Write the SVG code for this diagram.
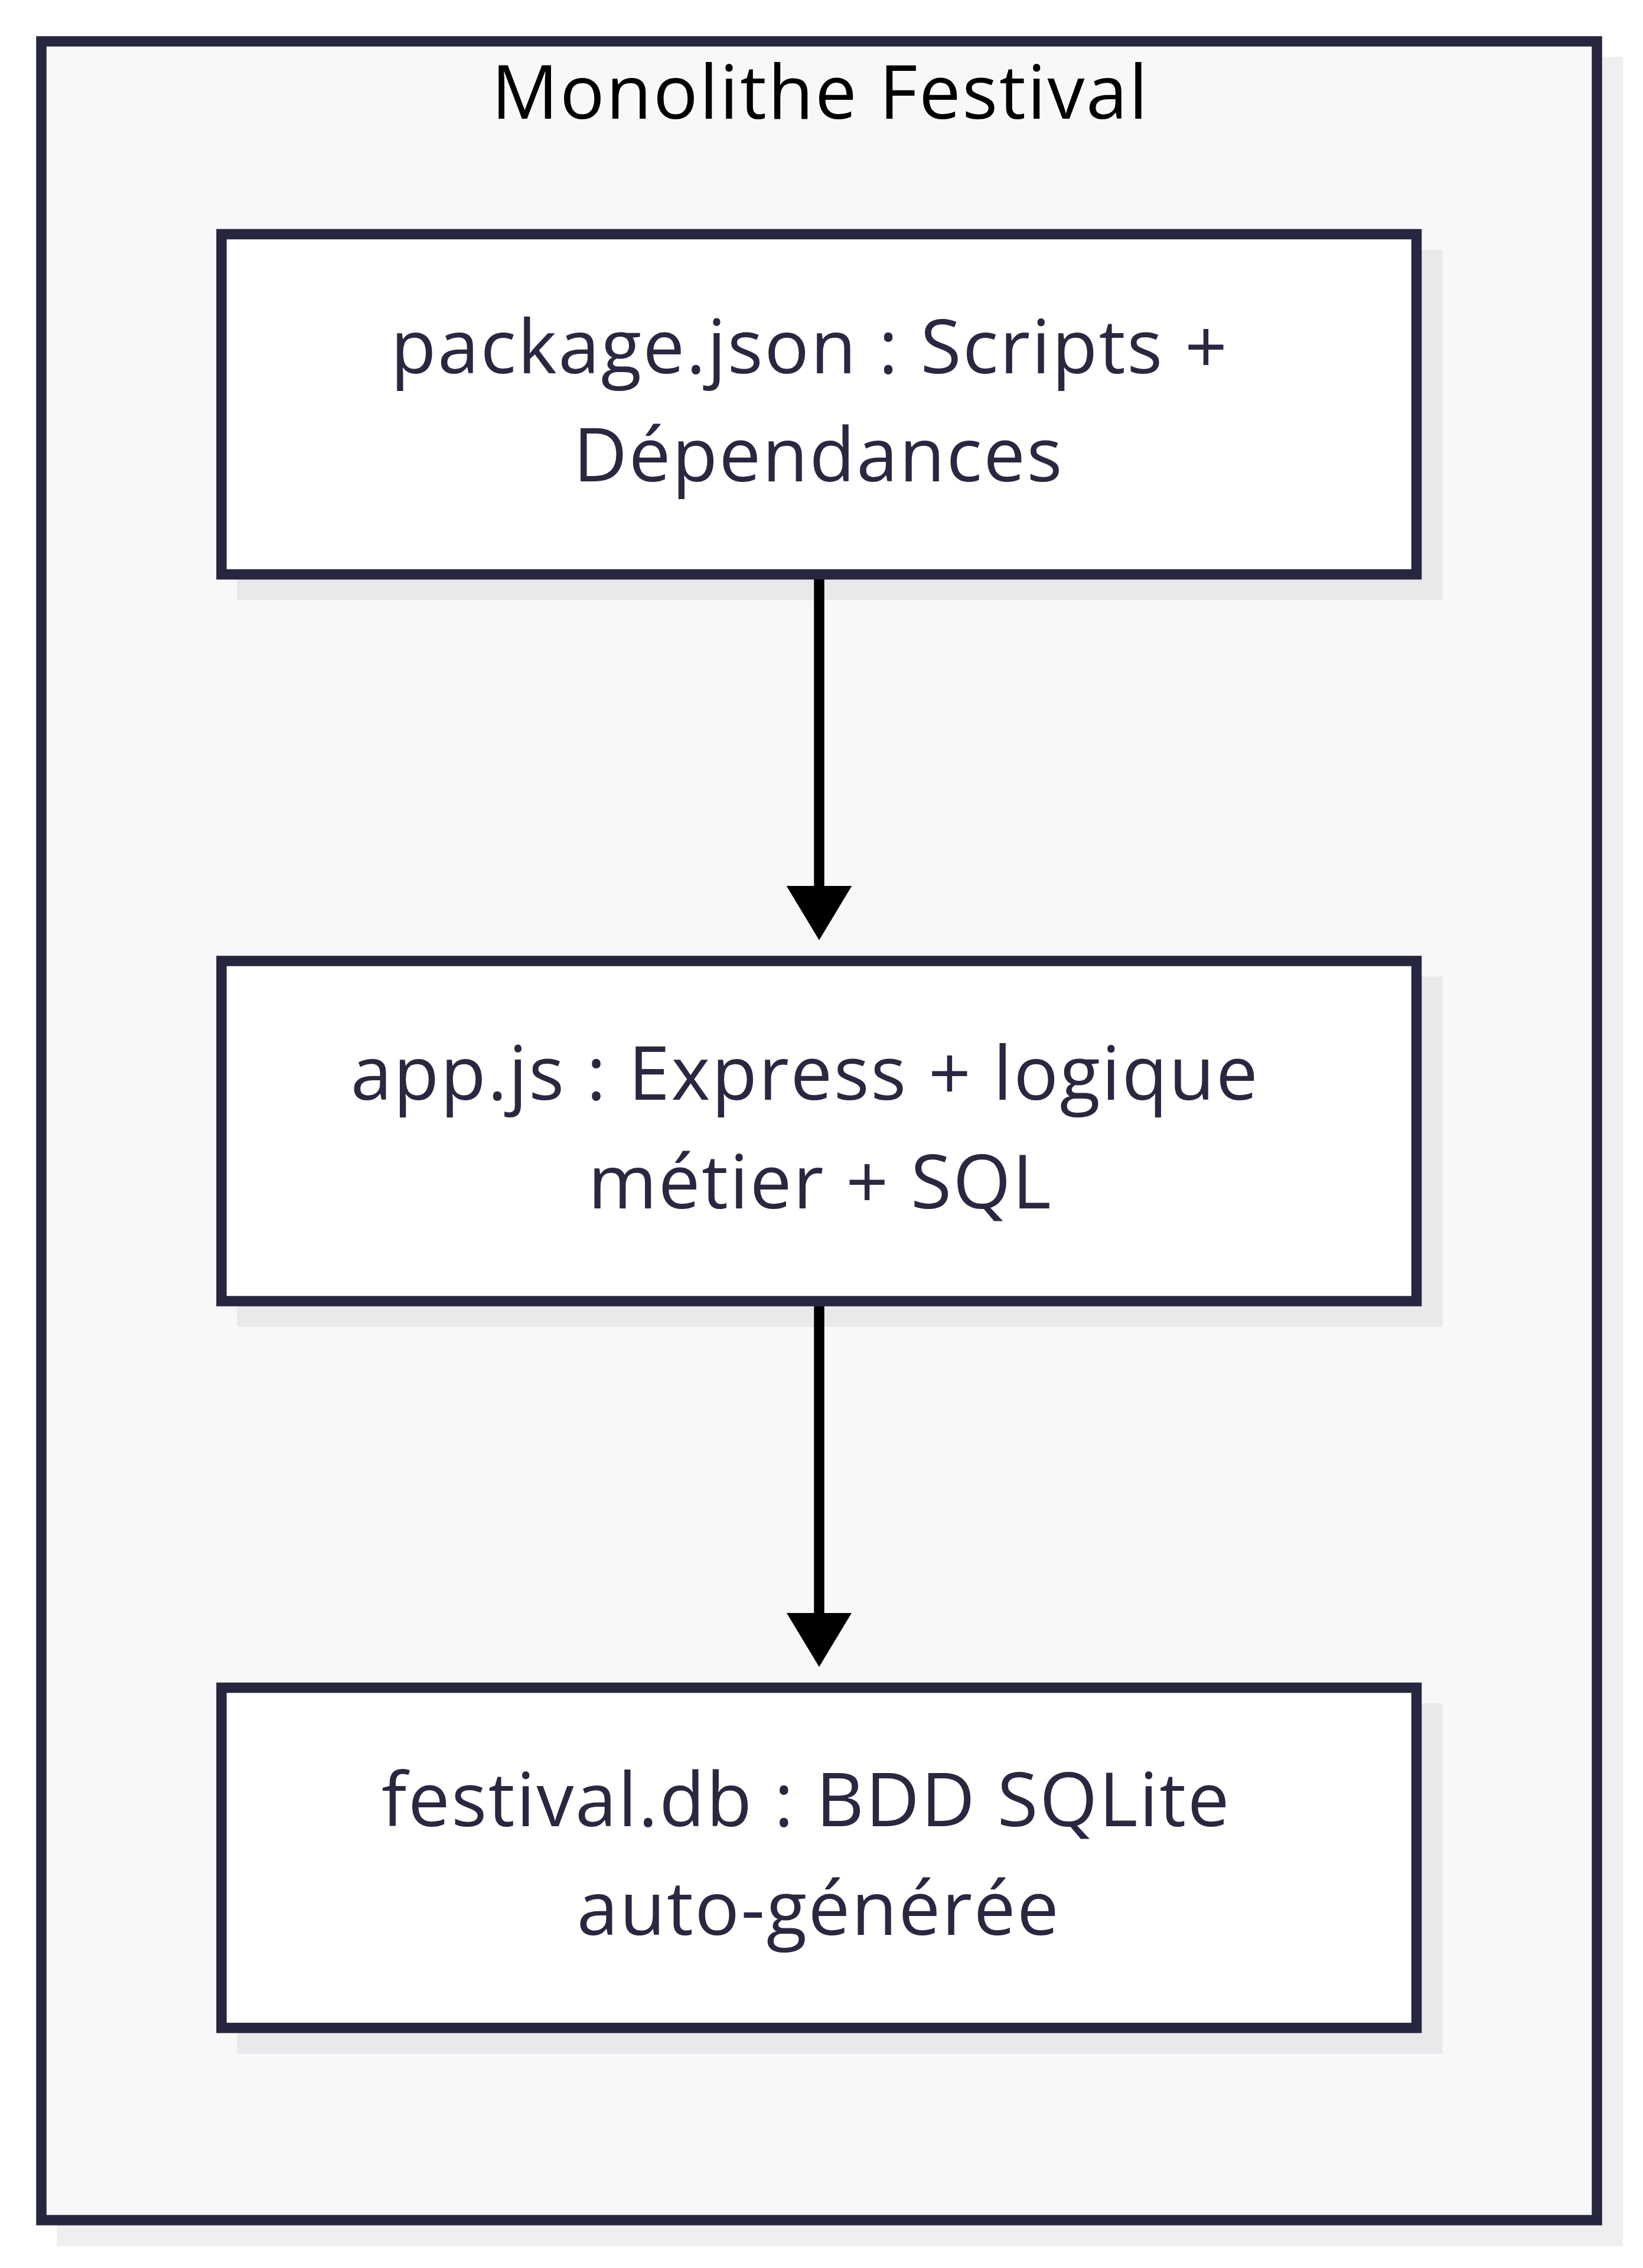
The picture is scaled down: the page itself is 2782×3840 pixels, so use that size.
<svg xmlns="http://www.w3.org/2000/svg" width="2782" height="3840" viewBox="0 0 2782 3840">
  <style>
    .frame { fill: #f8f8fa; stroke: #26263e; stroke-width: 17.5; }
    .frame-shadow { fill: #efefef; }
    .node-box { fill: #ffffff; stroke: #26263e; stroke-width: 17.5; }
    .node-shadow { fill: #e9e9ec; }
    .title { font-family: "Open Sans", "Noto Sans", sans-serif; font-size: 126px; letter-spacing: 2.5px; fill: #000000; text-anchor: middle; }
    .label { font-family: "Open Sans", "Noto Sans", sans-serif; font-size: 126px; letter-spacing: 2.5px; fill: #2a2740; text-anchor: middle; }
    .edge { fill: none; stroke: #000000; stroke-width: 17.5; }
  </style>
  <defs>
    <marker id="arrow" markerUnits="userSpaceOnUse" viewBox="0 0 92 111" markerWidth="92" markerHeight="111" refX="1" refY="55.3" orient="auto">
      <path d="M0,0 L91.7,55.3 L0,110.6 Z" fill="#000000"/>
    </marker>
  </defs>
  <rect width="2782" height="3840" fill="#ffffff"/>
  <g id="cluster-monolithe">
    <rect class="frame-shadow" x="96.25" y="96.25" width="2651.5" height="3706.5"/>
    <rect class="frame" x="70" y="70" width="2634" height="3689"/>
    <text class="title" x="1389" y="201">Monolithe Festival</text>
  </g>
  <g id="node-package">
    <rect class="node-shadow" x="401.25" y="422.75" width="2041.5" height="593.5"/>
    <rect class="node-box" x="375" y="396.5" width="2023.5" height="576"/>
    <text class="label" x="1371" y="632">package.json : Scripts +</text>
    <text class="label" x="1386" y="815">Dépendances</text>
  </g>
  <g id="node-app">
    <rect class="node-shadow" x="401.25" y="1653.25" width="2041.5" height="593.5"/>
    <rect class="node-box" x="375" y="1627" width="2023.5" height="576"/>
    <text class="label" x="1363" y="1862">app.js : Express + logique</text>
    <text class="label" x="1389" y="2045.5">métier + SQL</text>
  </g>
  <g id="node-db">
    <rect class="node-shadow" x="401.25" y="2883.75" width="2041.5" height="593.5"/>
    <rect class="node-box" x="375" y="2857.5" width="2023.5" height="576"/>
    <text class="label" x="1365" y="3092">festival.db : BDD SQLite</text>
    <text class="label" x="1386" y="3275.5">auto-générée</text>
  </g>
  <g id="connectors">
    <line class="edge" x1="1387" y1="981" x2="1387" y2="1501" marker-end="url(#arrow)"/>
    <line class="edge" x1="1387" y1="2211.5" x2="1387" y2="2731.5" marker-end="url(#arrow)"/>
  </g>
</svg>
